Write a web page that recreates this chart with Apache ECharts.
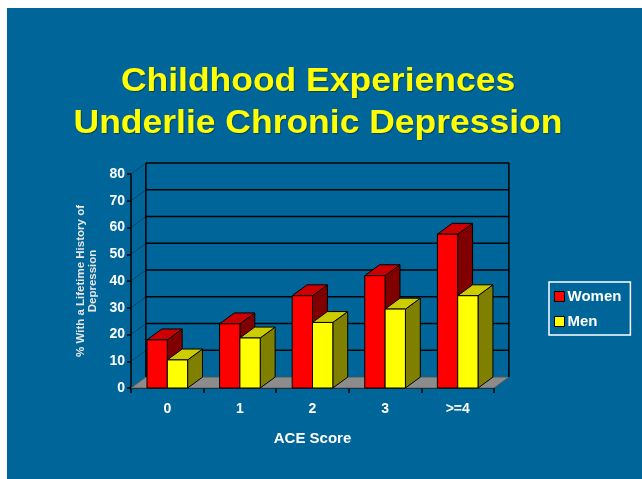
<!DOCTYPE html>
<html>
<head>
<meta charset="utf-8">
<script src="https://cdn.jsdelivr.net/npm/echarts@6/dist/echarts.min.js"></script>
<style>
  html, body { margin: 0; padding: 0; background: #ffffff; }
  #wrap { position: relative; width: 642px; height: 479px; background: #ffffff; overflow: hidden; }
  #bg { position: absolute; left: 7px; top: 8px; right: 0; bottom: 0; background: #006699; }
  #chart { position: absolute; left: 0; top: 0; width: 642px; height: 479px; }
</style>
</head>
<body>
<div id="wrap"><div id="bg"></div><div id="chart"></div></div>
<script>
const categories = ['0', '1', '2', '3', '>=4'];
const women = [18, 24, 34.5, 42, 57.5];
const men = [10.5, 18.7, 24.5, 29.5, 34.5];
const yTicks = [0, 10, 20, 30, 40, 50, 60, 70, 80];
const titleText = 'Childhood Experiences\nUnderlie Chronic Depression';
const yName = '% With a Lifetime History of\nDepression';
const xName = 'ACE Score';

const FONT = '"Liberation Sans", Arial, sans-serif';
const BAR_W = 0.28, DEPTH_X = 0.205, DEPTH_Y = 0.15;

function barItem(params, api, side, colors) {
  const idx = api.value(0), val = api.value(1);
  const top = api.coord([idx, val]);
  const base = api.coord([idx, 0]);
  const band = api.size([1, 0])[0];
  const w = band * BAR_W, dx = band * DEPTH_X, dy = band * DEPTH_Y;
  const x0 = side === 'left' ? top[0] - w : top[0];
  const x1 = x0 + w;
  const yt = top[1], yb = base[1];
  const stroke = { stroke: '#000', lineWidth: 1 };
  return {
    type: 'group',
    children: [
      { type: 'polygon', shape: { points: [[x1, yb], [x1 + dx, yb - dy], [x1 + dx, yt - dy], [x1, yt]] },
        style: Object.assign({ fill: colors[2] }, stroke) },
      { type: 'polygon', shape: { points: [[x0, yt], [x0 + dx, yt - dy], [x1 + dx, yt - dy], [x1, yt]] },
        style: Object.assign({ fill: colors[1] }, stroke) },
      { type: 'rect', shape: { x: x0, y: yt, width: w, height: yb - yt },
        style: Object.assign({ fill: colors[0] }, stroke) }
    ]
  };
}

function wallItem(params, api) {
  const cs = params.coordSys;
  const v = api.value(1);
  const y = api.coord([0, v])[1];
  const x0 = cs.x, x1 = cs.x + cs.width;
  const band = cs.width / categories.length;
  const dx = band * DEPTH_X, dy = band * DEPTH_Y;
  const children = [];
  if (v === yTicks[0]) {
    const yTop = api.coord([0, yTicks[yTicks.length - 1]])[1];
    children.push({ type: 'polygon', shape: { points: [[x0, y], [x1, y], [x1 + dx, y - dy], [x0 + dx, y - dy]] },
      style: { fill: '#8c8c8c', stroke: '#555', lineWidth: 0.8 } });
    children.push({ type: 'line', shape: { x1: x0 + dx, y1: y - dy, x2: x0 + dx, y2: yTop - dy },
      style: { stroke: '#000', lineWidth: 1.5 } });
    children.push({ type: 'line', shape: { x1: x1 + dx, y1: y - dy, x2: x1 + dx, y2: yTop - dy },
      style: { stroke: '#000', lineWidth: 1.5 } });
  } else {
    children.push({ type: 'line', shape: { x1: x0 + dx, y1: y - dy, x2: x1 + dx, y2: y - dy },
      style: { stroke: '#000', lineWidth: 1.5 } });
    children.push({ type: 'line', shape: { x1: x0, y1: y, x2: x0 + dx, y2: y - dy },
      style: { stroke: 'rgba(0,30,60,0.45)', lineWidth: 1 } });
  }
  return { type: 'group', children: children };
}

const chart = echarts.init(document.getElementById('chart'), null, { renderer: 'canvas' });
chart.setOption({
  animation: false,
  graphic: [
    {
      type: 'text',
      x: 318,
      y: 61,
      scaleX: 1.075,
      silent: true,
      style: {
        text: titleText,
        x: 0, y: 0,
        align: 'center',
        verticalAlign: 'top',
        fill: '#ffff00',
        font: 'bold 33px ' + FONT,
        lineHeight: 42,
        textShadowColor: 'rgba(0,0,0,0.35)', textShadowBlur: 1, textShadowOffsetX: 1, textShadowOffsetY: 1
      }
    }
  ],
  legend: {
    orient: 'vertical',
    left: 549,
    top: 282,
    padding: [7, 9, 6, 5],
    itemWidth: 10,
    itemHeight: 10,
    itemGap: 10,
    borderColor: '#ffffff',
    borderWidth: 1.5,
    textStyle: { color: '#ffffff', fontSize: 15, fontWeight: 'bold', fontFamily: FONT, padding: [0, 0, 0, -2] },
    data: [
      { name: 'Women', icon: 'rect', itemStyle: { color: '#ff0000', borderColor: '#000', borderWidth: 1 } },
      { name: 'Men', icon: 'rect', itemStyle: { color: '#ffff00', borderColor: '#000', borderWidth: 1 } }
    ]
  },
  grid: { left: 131, right: 148, top: 174, bottom: 91, containLabel: false },
  xAxis: {
    type: 'category',
    data: categories,
    name: xName,
    nameLocation: 'middle',
    nameGap: 43,
    nameTextStyle: { color: '#ffffff', fontSize: 15, fontWeight: 'bold', fontFamily: FONT },
    axisLine: { show: true, lineStyle: { color: '#000', width: 1.5 } },
    axisTick: { show: true, length: 5, lineStyle: { color: '#000', width: 1.5 } },
    axisLabel: { color: '#ffffff', fontSize: 14, fontWeight: 'bold', fontFamily: FONT, margin: 14 },
    splitLine: { show: false }
  },
  yAxis: {
    type: 'value',
    min: 0,
    max: 80,
    interval: 10,
    name: yName,
    nameLocation: 'middle',
    nameRotate: 90,
    nameGap: 30,
    nameTextStyle: { color: '#e6e6e6', fontSize: 11.5, fontWeight: 'bold', fontFamily: FONT, lineHeight: 12 },
    axisLine: { show: true, lineStyle: { color: '#000', width: 1.5 } },
    axisTick: { show: true, length: 4, lineStyle: { color: '#000', width: 1.5 } },
    axisLabel: { color: '#ffffff', fontSize: 14, fontWeight: 'bold', fontFamily: FONT, margin: 6 },
    splitLine: { show: false }
  },
  series: [
    {
      name: 'wall',
      type: 'custom',
      z: 1,
      silent: true,
      renderItem: wallItem,
      encode: { x: 0, y: 1 },
      data: yTicks.map(v => [0, v])
    },
    {
      name: 'Women',
      type: 'custom',
      z: 3,
      itemStyle: { color: '#ff0000' },
      renderItem: (p, api) => barItem(p, api, 'left', ['#ff0000', '#cc0000', '#800000']),
      encode: { x: 0, y: 1 },
      data: women.map((v, i) => [i, v])
    },
    {
      name: 'Men',
      type: 'custom',
      z: 4,
      itemStyle: { color: '#ffff00' },
      renderItem: (p, api) => barItem(p, api, 'right', ['#ffff00', '#cccc00', '#808000']),
      encode: { x: 0, y: 1 },
      data: men.map((v, i) => [i, v])
    }
  ]
});
</script>
</body>
</html>
